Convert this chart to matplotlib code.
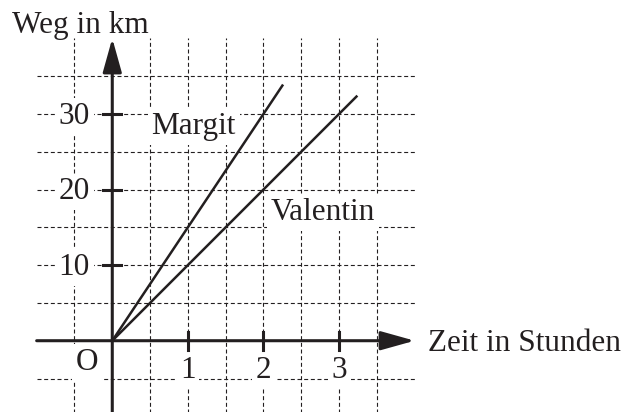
import matplotlib
matplotlib.use("Agg")
import matplotlib.pyplot as plt

# data
hours_margit = [0, 2.25]
km_margit = [0, 33.75]
hours_valentin = [0, 3.23]
km_valentin = [0, 32.3]

x_ticks = [1, 2, 3]
y_ticks = [10, 20, 30]
grid_x = [-0.5, 0.5, 1, 1.5, 2, 2.5, 3, 3.5]
grid_y = [-5, 5, 10, 15, 20, 25, 30, 35]

ink = "#231f20"
fs = 22.5
plt.rcParams["font.family"] = ["Liberation Serif", "DejaVu Serif"]

fig = plt.figure(figsize=(6.31, 4.12), dpi=100)
ax = fig.add_axes([0, 0, 1, 1])
ax.set_xlim(-1.485, 6.861)
ax.set_ylim(-9.43, 45.07)
ax.axis("off")

# dashed grid
dash = (0, (3.6, 2.4))
ax.vlines(grid_x, -10, 40, colors=ink, linewidth=0.8, linestyles=dash, zorder=1)
ax.hlines(grid_y, -1, 4, colors=ink, linewidth=0.8, linestyles=dash, zorder=1)

box = dict(boxstyle="square,pad=0.12", fc="white", ec="none")

# axes with arrows
arrow = dict(arrowstyle="-|>,head_length=1.04,head_width=0.29", lw=2.2,
             color=ink, mutation_scale=20, shrinkA=0, shrinkB=0)
ax.annotate("", xy=(4.0, 0), xytext=(-1, 0), arrowprops=arrow, zorder=4)
ax.annotate("", xy=(0, 40), xytext=(0, -10), arrowprops=arrow, zorder=4)

# ticks
for t in x_ticks:
    ax.plot([t, t], [-1.2, 1.2], color=ink, lw=2.2, zorder=4)
    ax.text(t, -4.93, str(t), ha="center", va="baseline", fontsize=fs,
            color=ink, bbox=box, zorder=2)
for t in y_ticks:
    ax.plot([-0.12, 0.12], [t, t], color=ink, lw=2.2, zorder=4)
    ax.text(-0.295, t - 1.3, str(t), ha="right", va="baseline", fontsize=fs,
            color=ink, bbox=box, zorder=2)
ax.text(-0.335, -3.88, "O", ha="center", va="baseline", fontsize=fs,
        color=ink, bbox=box, zorder=2)

# the two lines
ax.plot(hours_margit, km_margit, color=ink, lw=1.8, zorder=3)
ax.plot(hours_valentin, km_valentin, color=ink, lw=1.8, zorder=3)

ax.text(0.52, 27.34, "Margit", ha="left", va="baseline", fontsize=fs,
        color=ink, bbox=box, zorder=2)
ax.text(2.095, 16.0, "Valentin", ha="left", va="baseline", fontsize=fs,
        color=ink, bbox=box, zorder=2)

ax.text(-1.33, 40.66, "Weg in km", ha="left", va="baseline", fontsize=fs,
        color=ink, zorder=2)
ax.text(4.18, -1.36, "Zeit in Stunden", ha="left", va="baseline", fontsize=fs,
        color=ink, zorder=2)

fig.savefig("out.png", dpi=100)
